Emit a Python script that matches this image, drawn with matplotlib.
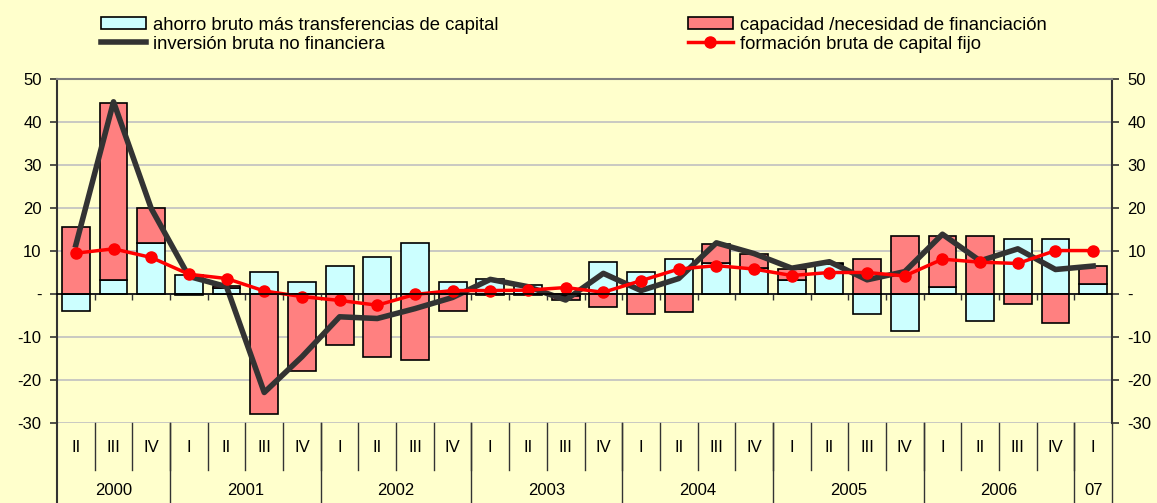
import numpy as np
import matplotlib.pyplot as plt
from matplotlib.patches import Patch
from matplotlib.lines import Line2D
import matplotlib.transforms as mtransforms

plt.rcParams['font.family'] = ['Liberation Sans', 'DejaVu Sans']

# trimestres 2000 II - 2007 I
trimestres = ['II', 'III', 'IV',
              'I', 'II', 'III', 'IV',
              'I', 'II', 'III', 'IV',
              'I', 'II', 'III', 'IV',
              'I', 'II', 'III', 'IV',
              'I', 'II', 'III', 'IV',
              'I', 'II', 'III', 'IV',
              'I']
anios = ['2000', '2001', '2002', '2003', '2004', '2005', '2006', '07']
trim_por_anio = [3, 4, 4, 4, 4, 4, 4, 1]

ahorro = [-3.9, 3.3, 11.9, 4.4, 1.3, 5.2, 2.9, 6.4, 8.7, 11.9, 2.9, 3.6, 2.0, -0.5,
          7.5, 5.2, 8.1, 7.1, 6.1, 3.3, 6.9, -4.7, -8.6, 1.7, -6.3, 12.7, 12.7, 2.3]
capacidad = [15.5, 41.2, 8.0, -0.3, 0.5, -28.0, -17.8, -11.9, -14.6, -15.3, -3.9, -0.3, -0.3, -0.9,
             -3.1, -4.7, -4.3, 4.6, 3.1, 2.4, 0.4, 8.1, 13.6, 11.9, 13.6, -2.4, -6.7, 4.1]
inversion = [11.4, 44.7, 19.9, 4.1, 1.7, -22.9, -14.6, -5.3, -5.7, -3.4, -0.8, 3.4, 1.7, -1.4,
             4.8, 0.8, 3.6, 11.9, 9.4, 6.0, 7.5, 3.3, 5.2, 13.9, 7.7, 10.5, 5.7, 6.5]
fbcf = [9.5, 10.5, 8.5, 4.6, 3.6, 0.7, -0.6, -1.5, -2.6, -0.1, 0.8, 0.8, 0.9, 1.5,
        0.4, 3.1, 5.8, 6.6, 5.8, 4.3, 5.0, 5.0, 4.2, 8.1, 7.4, 7.1, 10.1, 10.1]

fondo = '#FFFFCC'
c_ahorro = '#CCFFFF'
c_cap = '#FF8080'

fig = plt.figure(figsize=(11.57, 5.03), dpi=100, facecolor=fondo)
ax = fig.add_axes([57/1157, 1-423/503, 1055/1157, 344/503])
ax.set_facecolor(fondo)

x = np.arange(len(trimestres))
ahorro = np.array(ahorro)
capacidad = np.array(capacidad)
# apilado por signo
base_cap = np.where(np.sign(capacidad) == np.sign(ahorro), ahorro, 0)

ax.bar(x, ahorro, width=0.74, color=c_ahorro, edgecolor='black', linewidth=1.2, zorder=3)
ax.bar(x, capacidad, bottom=base_cap, width=0.74, color=c_cap, edgecolor='black', linewidth=1.2, zorder=3)
ax.plot(x, inversion, color='#333333', linewidth=4, zorder=4)
ax.plot(x, fbcf, color='red', linewidth=2.5, marker='o', markersize=8, zorder=5)

ax.set_xlim(-0.5, len(x) - 0.5)
ax.set_ylim(-30, 50)
yt = np.arange(-30, 51, 10)
ax.set_yticks(yt)
ax.set_yticklabels([str(v) if v != 0 else '-' for v in yt])
ax.tick_params(axis='y', left=True, right=True, labelleft=True, labelright=True,
               direction='out', length=5, width=1.2, color='#333333', labelsize=12, pad=6)
ax.yaxis.grid(True, color='#C0C0C0', linewidth=1.2, zorder=0)

# eje x en el cero
ax.spines['bottom'].set_position(('data', 0))
ax.spines['bottom'].set_color('black')
ax.spines['bottom'].set_linewidth(1.2)
ax.spines['bottom'].set_zorder(6)
ax.set_xticks(np.arange(0.5, len(x) - 1, 1))
ax.set_xticklabels([])
ax.tick_params(axis='x', direction='out', length=4, width=1.0, color='#333333')
ax.spines['top'].set_color('#808080')
ax.spines['top'].set_linewidth(1.5)
ax.spines['left'].set_color('#333333')
ax.spines['right'].set_color('#333333')
ax.spines['left'].set_linewidth(1.5)
ax.spines['right'].set_linewidth(1.5)

# rotulos de categorias
tr = mtransforms.blended_transform_factory(ax.transData, ax.transAxes)
for i, q in enumerate(trimestres):
    ax.text(i, -0.07, q, transform=tr, ha='center', va='center', fontsize=12, clip_on=False)
for b in np.arange(0.5, len(x) - 1, 1):
    ax.add_line(Line2D([b, b], [0, -0.137], transform=tr, color='#333333', linewidth=1.0, clip_on=False))
lim = -0.5
for a, n in zip(anios, trim_por_anio):
    ax.text(lim + n / 2, -0.195, a, transform=tr, ha='center', va='center', fontsize=12, clip_on=False)
    lim += n
    ax.add_line(Line2D([lim, lim], [0, -0.24], transform=tr, color='#333333', linewidth=1.0, clip_on=False))
ax.add_line(Line2D([-0.5, -0.5], [0, -0.24], transform=tr, color='#333333', linewidth=1.5, clip_on=False))

# leyenda
h1 = [Patch(facecolor=c_ahorro, edgecolor='black', linewidth=1.2),
      Line2D([], [], color='#333333', linewidth=4)]
h2 = [Patch(facecolor=c_cap, edgecolor='black', linewidth=1.2),
      Line2D([], [], color='red', linewidth=2.5, marker='o', markersize=8)]
opts = dict(loc='upper left', frameon=False, fontsize=13.3, borderaxespad=0, borderpad=0.2,
            handlelength=2.44, handletextpad=0.38, labelspacing=0.1, handleheight=0.6)
leg1 = fig.legend(h1, ['ahorro bruto más transferencias de capital', 'inversión bruta no financiera'],
                  bbox_to_anchor=(97/1157, 1 - 13/503), **opts)
leg2 = fig.legend(h2, ['capacidad /necesidad de financiación', 'formación bruta de capital fijo'],
                  bbox_to_anchor=(684/1157, 1 - 13/503), **opts)

fig.savefig('out.png', dpi=100, facecolor=fondo)
